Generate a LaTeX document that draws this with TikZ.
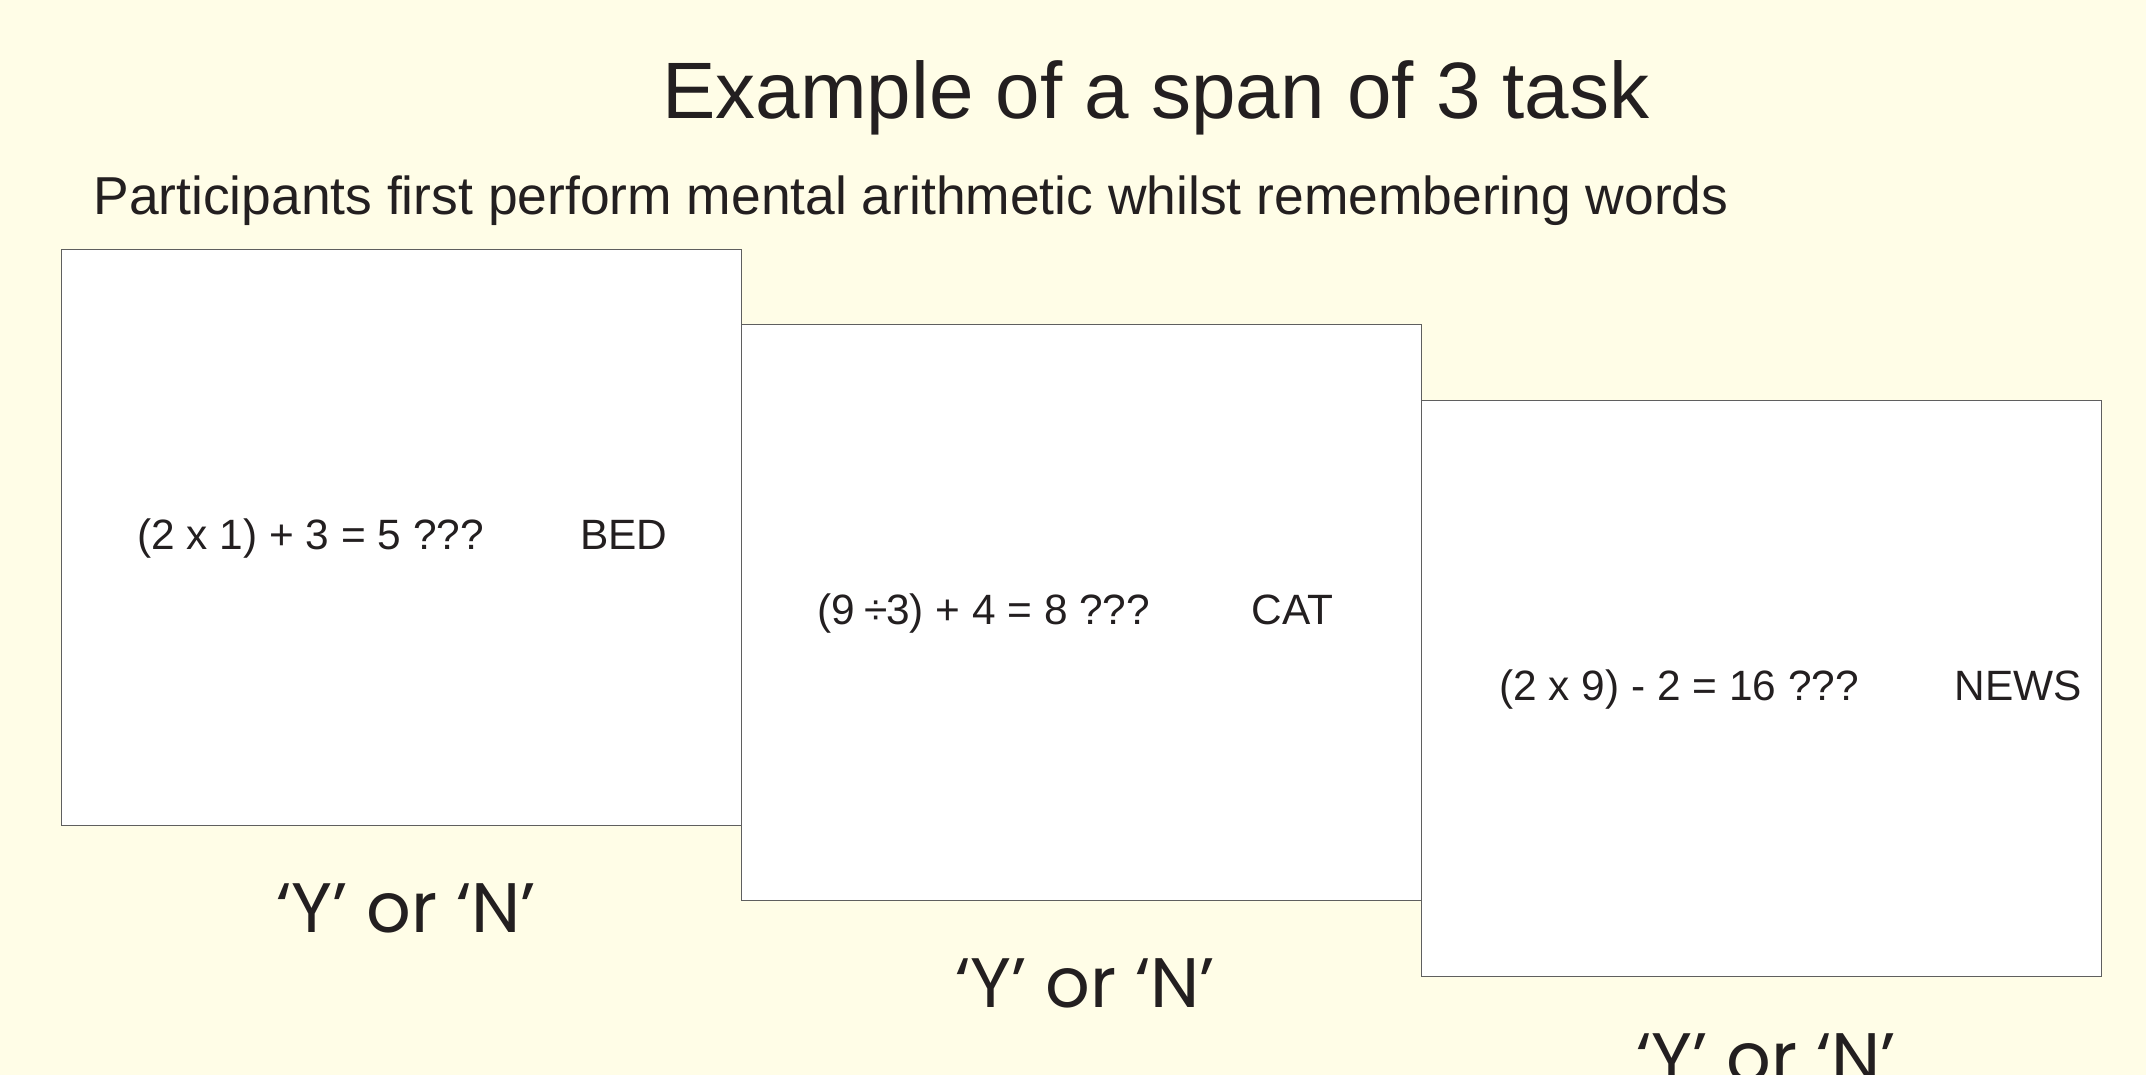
\documentclass[tikz,border=0pt]{standalone}
\usepackage{fontspec}
\setmainfont{Liberation Sans}
\newfontfamily\geofont{Poppins}
\definecolor{paper}{RGB}{255,253,231}
\definecolor{ink}{RGB}{35,31,32}
\definecolor{frame}{RGB}{95,95,95}
\begin{document}
\begin{tikzpicture}[x=0.5pt,y=-0.5pt,
  card/.style={draw=frame,line width=0.8pt,fill=white},
  txt/.style={anchor=base west,inner sep=0pt,text=ink},
  eq/.style={txt,font=\fontsize{21.2}{24}\selectfont},
  yn/.style={txt,font=\geofont\fontsize{35}{40}\selectfont}]
  \clip (0,0) rectangle (2146,1075);
  \fill[paper] (0,0) rectangle (2146,1075);
  % headings
  \node[txt,anchor=base,font=\fontsize{40}{46}\selectfont] (title) at (1156,119) {Example of a span of 3 task};
  \node[txt,font=\fontsize{26.7}{30}\selectfont] (sub) at (93,215) {Participants first perform mental arithmetic whilst remembering words};
  % three cards, each shifted right and down
  \draw[card] (61.5,249.5) rectangle (741.5,825.5);
  \draw[card] (741.5,324.5) rectangle (1421.5,900.5);
  \draw[card] (1421.5,400.5) rectangle (2101.5,976.5);
  % card contents
  \node[eq] (q1) at (137,549) {(2 x 1) + 3 = 5 ???};
  \node[eq] (w1) at (580,549) {BED};
  \node[eq] (q2) at (817,624) {(9 \kern-1pt÷\kern-1pt3) + 4 = 8 ???};
  \node[eq] (w2) at (1251,624) {CAT};
  \node[eq] (q3) at (1499,700) {(2 x 9) - 2 = 16 ???};
  \node[eq] (w3) at (1954,700) {NEWS};
  % responses
  \node[yn] (r1) at (276,932) {‘Y’ or ‘N’};
  \node[yn] (r2) at (955,1007) {‘Y’ or ‘N’};
  \node[yn] (r3) at (1636,1082) {‘Y’ or ‘N’};
\end{tikzpicture}
\end{document}
